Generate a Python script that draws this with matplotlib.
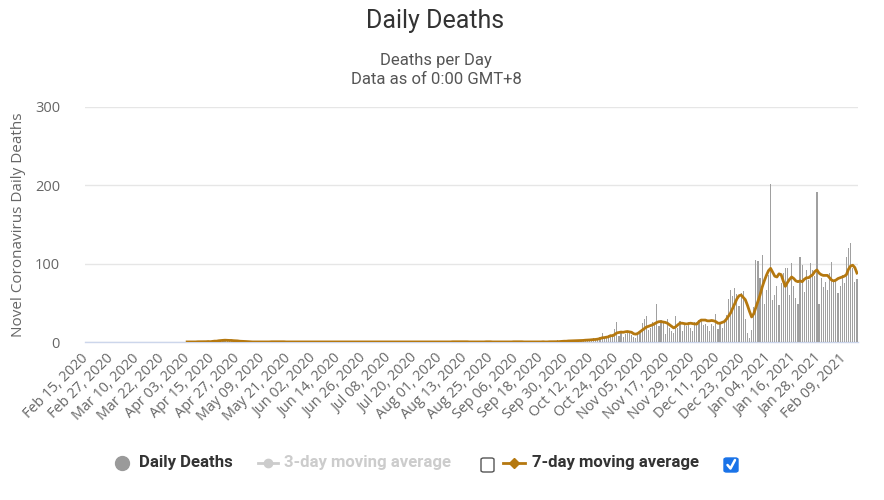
import numpy as np
import pandas as pd
import matplotlib
matplotlib.use("Agg")
import matplotlib.pyplot as plt
from matplotlib.lines import Line2D
from matplotlib.patches import FancyBboxPatch

nan = np.nan

# ---------------- data ----------------
dates = pd.date_range("2020-02-15", "2021-02-15", freq="D")

deaths_feb20 = [0] * 15
deaths_mar20 = [0] * 31
deaths_apr20 = [0, 0, 1, 0, 0, 0, 0, 1, 0, 0, 1, 0, 1, 0, 2, 3, 1, 3, 2, 2,
                3, 1, 2, 1, 2, 0, 1, 0, 0, 1]
deaths_may20 = [0, 0, 0, 0, 0, 0, 0, 0, 0, 1, 0, 0, 1, 0, 1, 0, 0, 1, 0, 0,
                0, 0, 0, 0, 0, 0, 0, 0, 0, 0, 0]
deaths_jun20 = [0] * 30
deaths_jul20 = [0] * 31
deaths_aug20 = [0, 0, 1, 0, 0, 0, 1, 0, 0, 0, 1, 0, 0, 0, 0, 0, 0, 0, 0, 1,
                0, 0, 0, 1, 0, 0, 0, 0, 0, 0, 0]
deaths_sep20 = [0, 0, 1, 0, 1, 0, 1, 0, 0, 0, 0, 0, 0, 1, 0, 0, 0, 0, 1, 0,
                0, 1, 0, 0, 0, 2, 1, 1, 2, 1]
deaths_oct20 = [2, 1, 3, 1, 2, 3, 1, 2, 3, 4, 2, 3, 5, 4, 3, 6, 11, 5, 7, 9,
                8, 10, 17, 25, 8, 12, 6, 10, 14, 12, 9]
deaths_nov20 = [6, 5, 12, 14, 24, 30, 33, 15, 18, 26, 22, 48, 20, 28, 24, 10,
                29, 18, 14, 12, 33, 18, 27, 14, 23, 20, 25, 18, 14, 26]
deaths_dec20 = [26, 28, 30, 22, 23, 20, 14, 23, 20, 36, 16, 23, 18, 27, 35,
                55, 66, 59, 69, 61, 46, 63, 65, 30, 12, 5, 15, 45, 105, 103, 82]
deaths_jan21 = [111, 48, 66, 85, 202, 53, 60, 71, 47, 75, 88, 94, 95, 60, 101,
                72, 56, 49, 109, 98, 64, 92, 79, 101, 92, 84, 191, 49, 82, 70, 77]
deaths_feb21 = [66, 88, 102, 77, 79, 62, 71, 85, 75, 109, 120, 126, 95, 77, 80]

ma7_feb20 = [nan] * 15
ma7_mar20 = [nan] * 31
ma7_apr20 = [nan, nan, 0.1, 0.1, 0.1, 0.1, 0.1, 0.3, 0.3, 0.3, 0.4, 0.4, 0.6,
             0.4, 0.7, 1.1, 1.1, 1.6, 1.9, 2.1, 2.3, 2.1, 2.0, 2.0, 1.7, 1.6,
             1.4, 1.0, 0.9, 0.7]
ma7_may20 = [0.6, 0.4, 0.3, 0.1, 0.1, 0.1, 0, 0, 0, 0.1, 0.1, 0.1, 0.3, 0.3,
             0.4, 0.3, 0.3, 0.4, 0.3, 0.1, 0.1, 0.1, 0, 0, 0, 0, 0, 0, 0, 0, 0]
ma7_jun20 = [0] * 30
ma7_jul20 = [0] * 31
ma7_aug20 = [0, 0, 0.1, 0.1, 0.1, 0.1, 0.3, 0.3, 0.3, 0.3, 0.4, 0.3, 0.3, 0.3,
             0.1, 0.1, 0.1, 0, 0, 0.1, 0.1, 0.1, 0.3, 0.3, 0.3, 0.1, 0.1, 0.1,
             0, 0, 0]
ma7_sep20 = [0, 0, 0.1, 0.1, 0.3, 0.3, 0.4, 0.3, 0.3, 0.1, 0.1, 0, 0, 0.1, 0.1,
             0.1, 0.1, 0.1, 0.3, 0.1, 0.1, 0.3, 0.3, 0.3, 0.3, 0.4, 0.6, 0.7,
             1.0, 1.0]
ma7_oct20 = [1.3, 1.4, 1.6, 1.7, 1.7, 1.9, 1.9, 2.0, 2.3, 2.4, 2.6, 2.9, 3.1,
             3.3, 3.7, 4.4, 5.3, 5.6, 6.1, 6.6, 8.1, 8.0, 9.6, 11.6, 12.1,
             12.7, 12.4, 13.0, 13.4, 12.9, 12.4]
ma7_nov20 = [10.5, 10, 11, 13, 15, 17, 19, 20, 21, 22, 23.5, 25, 26, 26, 25.5,
             25, 24, 22, 20, 18, 19.5, 22, 24, 24, 23.5, 23, 23.5, 24, 23.5, 23]
ma7_dec20 = [23, 26, 28, 28, 28, 27, 27, 27.5, 27, 26, 24, 24, 25, 26, 29, 33,
             37, 43, 49, 55, 59, 60, 57, 54, 47, 39, 32, 36, 44, 52, 60]
ma7_jan21 = [70, 78, 85, 91, 94, 89, 84, 83, 87, 86, 78, 71, 76, 80, 83, 81,
             78, 77, 78, 77, 80, 82, 82, 84, 86, 90, 92, 88, 86, 85, 85]
ma7_feb21 = [85, 82, 79, 78, 79, 81, 82, 83, 84, 86, 93, 97, 98, 95, 88]

daily_deaths = (deaths_feb20 + deaths_mar20 + deaths_apr20 + deaths_may20 +
                deaths_jun20 + deaths_jul20 + deaths_aug20 + deaths_sep20 +
                deaths_oct20 + deaths_nov20 + deaths_dec20 + deaths_jan21 +
                deaths_feb21)
ma7 = (ma7_feb20 + ma7_mar20 + ma7_apr20 + ma7_may20 + ma7_jun20 + ma7_jul20 +
       ma7_aug20 + ma7_sep20 + ma7_oct20 + ma7_nov20 + ma7_dec20 + ma7_jan21 +
       ma7_feb21)

tick_labels = ["Feb 15, 2020", "Feb 27, 2020", "Mar 10, 2020", "Mar 22, 2020",
               "Apr 03, 2020", "Apr 15, 2020", "Apr 27, 2020", "May 09, 2020",
               "May 21, 2020", "Jun 02, 2020", "Jun 14, 2020", "Jun 26, 2020",
               "Jul 08, 2020", "Jul 20, 2020", "Aug 01, 2020", "Aug 13, 2020",
               "Aug 25, 2020", "Sep 06, 2020", "Sep 18, 2020", "Sep 30, 2020",
               "Oct 12, 2020", "Oct 24, 2020", "Nov 05, 2020", "Nov 17, 2020",
               "Nov 29, 2020", "Dec 11, 2020", "Dec 23, 2020", "Jan 04, 2021",
               "Jan 16, 2021", "Jan 28, 2021", "Feb 09, 2021"]
y_ticks = [0, 100, 200, 300]

# ---------------- figure ----------------
W, H = 884, 500
fig = plt.figure(figsize=(W / 100, H / 100), dpi=100)
fig.patch.set_facecolor("white")


def fx(x):
    return x / W


def fy(y):
    return 1 - y / H


sans = ["Open Sans", "DejaVu Sans"]
title_font = ["Roboto", "DejaVu Sans"]

L, R, T, B = 85, 858, 107, 342
ax = fig.add_axes([fx(L), fy(B), (R - L) / W, (B - T) / H])

idx = np.arange(len(dates))
ax.bar(idx, daily_deaths, width=0.55, color="#a0a0a0", linewidth=0, zorder=2)
ax.plot(idx, ma7, color="#b5780f", lw=2.0, zorder=3, solid_joinstyle="round")

ax.set_xlim(-0.5, len(dates) - 0.5)
ax.set_ylim(0, 300)
ax.set_yticks(y_ticks)
ax.set_yticklabels([str(v) for v in y_ticks], fontsize=10.5, color="#666666",
                   family=sans)
ax.yaxis.grid(True, color="#e6e6e6", lw=1)
ax.set_axisbelow(True)
ax.tick_params(axis="y", length=0, pad=18)

tick_pos = []
for lab in tick_labels:
    d = pd.to_datetime(lab, format="%b %d, %Y")
    tick_pos.append(int((d - dates[0]).days))
ax.set_xticks(tick_pos)
ax.set_xticklabels(tick_labels, rotation=45, ha="right", va="center",
                   rotation_mode="anchor", fontsize=10.4, color="#666666",
                   family=sans)
ax.tick_params(axis="x", length=0, pad=10)

for s in ["top", "right", "left"]:
    ax.spines[s].set_visible(False)
ax.spines["bottom"].set_color("#ccd6eb")
ax.spines["bottom"].set_linewidth(1)
ax.spines["bottom"].set_zorder(1)

fig.text(fx(19), fy(225), "Novel Coronavirus Daily Deaths", rotation=90,
         ha="center", va="center", fontsize=11, color="#666666",
         family=sans)

# titles
fig.text(fx(435), fy(21), "Daily Deaths", ha="center", va="center",
         fontsize=18, color="#333333", family=title_font)
fig.text(fx(436), fy(60), "Deaths per Day", ha="center", va="center",
         fontsize=12, color="#555555", family=title_font)
fig.text(fx(436), fy(79), "Data as of 0:00 GMT+8", ha="center", va="center",
         fontsize=12, color="#555555", family=title_font)

# legend
ly = 463
leg_font = ["Roboto", "Liberation Sans", "DejaVu Sans"]
fig.add_artist(Line2D([fx(122)], [fy(ly)], marker="o", ms=10,
                      color="#9a9a9a", transform=fig.transFigure))
fig.text(fx(139), fy(ly), "Daily Deaths", ha="left", va="center",
         fontsize=12.1, fontweight="bold", color="#333333", family=leg_font)

fig.add_artist(Line2D([fx(258), fx(278)], [fy(ly), fy(ly)], lw=2,
                      color="#cccccc", transform=fig.transFigure))
fig.add_artist(Line2D([fx(268)], [fy(ly)], marker="o", ms=6,
                      color="#cccccc", transform=fig.transFigure))
fig.text(fx(284), fy(ly), "3-day moving average", ha="left", va="center",
         fontsize=12.1, fontweight="bold", color="#cccccc", family=leg_font)

fig.add_artist(FancyBboxPatch((fx(481), fy(472)), fx(13), 14 / H,
                              boxstyle="round,pad=0,rounding_size=0.003",
                              fc="white", ec="#555555", lw=1,
                              transform=fig.transFigure))

fig.add_artist(Line2D([fx(503), fx(525)], [fy(ly), fy(ly)], lw=2,
                      color="#b5780f", transform=fig.transFigure))
fig.add_artist(Line2D([fx(514)], [fy(ly)], marker="D", ms=5,
                      color="#b5780f", transform=fig.transFigure))
fig.text(fx(532), fy(ly), "7-day moving average", ha="left", va="center",
         fontsize=12.1, fontweight="bold", color="#333333", family=leg_font)

fig.add_artist(FancyBboxPatch((fx(724), fy(472)), fx(14), 14 / H,
                              boxstyle="round,pad=0,rounding_size=0.003",
                              fc="#1a73e8", ec="#1a73e8", lw=1,
                              transform=fig.transFigure))
fig.add_artist(Line2D([fx(727.5), fx(730.5), fx(735)],
                      [fy(465), fy(468.5), fy(460)], lw=1.8,
                      color="white", transform=fig.transFigure,
                      solid_capstyle="round"))

fig.savefig("out.png", dpi=100, facecolor="white")
